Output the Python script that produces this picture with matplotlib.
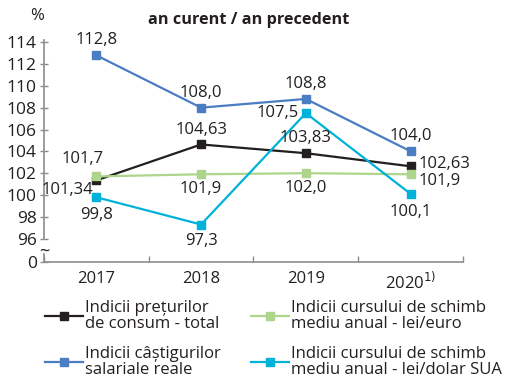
import matplotlib
matplotlib.use('Agg')
from matplotlib import pyplot as plt

plt.rcParams['font.family'] = ['Open Sans', 'DejaVu Sans']

years = ['2017', '2018', '2019', '2020']
cpi = [101.34, 104.63, 103.83, 102.63]
wages = [112.8, 108.0, 108.8, 104.0]
eur = [101.7, 101.9, 102.0, 101.9]
usd = [99.8, 97.3, 107.5, 100.1]

y_ticks = [96, 98, 100, 102, 104, 106, 108, 110, 112, 114]
y_bottom = 93.9
y_top = 114.2

text_color = '#231f20'
axis_color = '#8c8c8c'

fig = plt.figure(figsize=(5.10, 3.77), dpi=100)
ax = fig.add_axes([0.086, 0.306, 0.822, 0.588])

x = list(range(len(years)))

def fmt(v, digits):
    return f'{v:.{digits}f}'.replace('.', ',')

series = [
    (cpi, '#231f20', 'Indicii prețurilor\nde consum - total'),
    (wages, '#4a7dc3', 'Indicii câștigurilor\nsalariale reale'),
    (eur, '#add58c', 'Indicii cursului de schimb\nmediu anual - lei/euro'),
    (usd, '#00b2d9', 'Indicii cursului de schimb\nmediu anual - lei/dolar SUA'),
]

handles = []
for vals, color, label in series:
    h, = ax.plot(x, vals, color=color, lw=1.6, marker='s', markersize=5.5,
                 label=label, clip_on=False, zorder=3)
    handles.append(h)

# value labels: (series, decimals, index, dx, dy in points, ha, va)
label_pos = [
    (cpi, 2, 0, -2, -7, 'right', 'center'),
    (cpi, 2, 1, 0, 5, 'center', 'bottom'),
    (cpi, 2, 2, 0, 5, 'center', 'bottom'),
    (cpi, 2, 3, 6, 1.5, 'left', 'center'),
    (wages, 1, 0, 0, 5, 'center', 'bottom'),
    (wages, 1, 1, 0, 5, 'center', 'bottom'),
    (wages, 1, 2, 0, 5, 'center', 'bottom'),
    (wages, 1, 3, 0, 5, 'center', 'bottom'),
    (eur, 1, 0, -10, 7, 'center', 'bottom'),
    (eur, 1, 1, 0, -5, 'center', 'top'),
    (eur, 1, 2, 0, -5, 'center', 'top'),
    (eur, 1, 3, 6, -4.5, 'left', 'center'),
    (usd, 1, 0, 0, -7, 'center', 'top'),
    (usd, 1, 1, 0, -6, 'center', 'top'),
    (usd, 1, 2, -5, 0, 'right', 'center'),
    (usd, 1, 3, 0, -7, 'center', 'top'),
]
for vals, digits, i, dx, dy, ha, va in label_pos:
    ax.annotate(fmt(vals[i], digits), (i, vals[i]), xytext=(dx, dy),
                textcoords='offset points', ha=ha, va=va,
                fontsize=12, color=text_color)

ax.set_xlim(-0.5, 3.5)
ax.set_ylim(y_bottom, y_top)

ax.set_yticks([y_bottom] + y_ticks)
ax.set_yticklabels(['0'] + [str(t) for t in y_ticks])
ax.set_xticks(x)
ax.set_xticklabels(['2017', '2018', '2019', '2020$^{1)}$'])
ax.set_xticks([-0.5, 0.5, 1.5, 2.5, 3.5], minor=True)
ax.tick_params(axis='x', which='major', length=0, pad=7,
               labelsize=12, labelcolor=text_color)
ax.tick_params(axis='x', which='minor', direction='in', length=4,
               color=axis_color, width=1)
ax.tick_params(axis='y', direction='inout', length=6, width=1,
               color=axis_color, labelsize=12.5, labelcolor=text_color, pad=2)

for side in ['top', 'right']:
    ax.spines[side].set_visible(False)
for side in ['left', 'bottom']:
    ax.spines[side].set_color(axis_color)
    ax.spines[side].set_linewidth(1.2)
ax.spines['left'].set_bounds(96, y_top)

# broken-axis stub between 0 and 96
ax.plot([-0.5, -0.5], [y_bottom, 94.6], color=axis_color, lw=1.2, clip_on=False)
ax.text(-0.5, 94.8, '~', ha='center', va='center', fontsize=13,
        color=text_color)

fig.text(0.073, 0.957, '%', ha='center', va='center', fontsize=12,
         color=text_color)
fig.text(0.488, 0.948, 'an curent / an precedent', ha='center', va='center',
         fontsize=11.7, fontweight='bold', color=text_color)

leg = fig.legend(handles=handles, ncol=2, loc='lower left',
                 bbox_to_anchor=(0.088, -0.003), frameon=False, fontsize=12,
                 handlelength=2.3, handletextpad=0.1, columnspacing=1.8,
                 labelspacing=0.85, borderpad=0, borderaxespad=0,
                 labelcolor=text_color)
for t in leg.get_texts():
    t.set_linespacing(1.0)

fig.savefig('out.png', dpi=100)
